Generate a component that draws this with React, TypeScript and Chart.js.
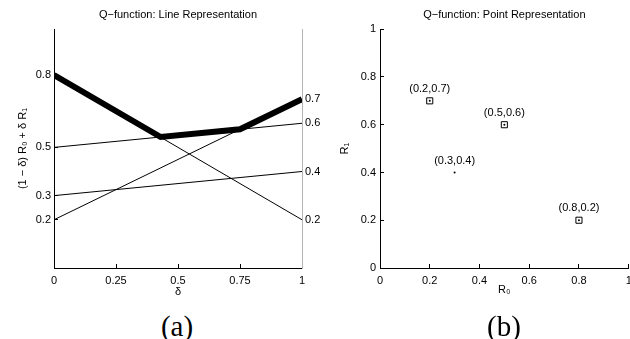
import React, { useEffect, useRef } from "react";
import { Chart, registerables } from "chart.js";

Chart.register(...registerables);

// ---- data ----
const r0Values = [0.2, 0.5, 0.3, 0.8];
const r1Values = [0.7, 0.6, 0.4, 0.2];
const hasBox = [true, true, false, true];
const envelopeDelta = [0, 0.43, 0.75, 1];
const envelopeValue = [0.8, 0.543, 0.575, 0.7];
const deltaTicks = [0, 0.25, 0.5, 0.75, 1];
const leftAxisTicks = [0.2, 0.3, 0.5, 0.8];
const rightAxisTicks = [0.2, 0.4, 0.6, 0.7];
const pointAxisTicks = [0, 0.2, 0.4, 0.6, 0.8, 1];
const pointLabels = r0Values.map((x, i) => `(${x},${r1Values[i]})`);

const FONT = "'Liberation Sans', Arial, Helvetica, sans-serif";
Chart.defaults.font.family = FONT;
Chart.defaults.font.size = 11;
Chart.defaults.color = "#000";

const setTicks = (arr: number[]) => (s: any) => {
  s.ticks = arr.map((v) => ({ value: v }));
};

function useChart(ref: React.RefObject<HTMLCanvasElement>, make: () => any) {
  useEffect(() => {
    if (!ref.current) return;
    const chart = new Chart(ref.current, make());
    return () => chart.destroy();
  }, []);
}

function LineChart() {
  const ref = useRef<HTMLCanvasElement>(null);
  useChart(ref, () => {
    const thin = r0Values.map((v, i) => ({
      data: [
        { x: 0, y: v },
        { x: 1, y: r1Values[i] },
      ],
      showLine: true,
      borderColor: "#000",
      borderWidth: 1,
      pointRadius: 0,
      yAxisID: "y",
      order: 2,
    }));
    const env = {
      data: envelopeDelta.map((d, i) => ({ x: d, y: envelopeValue[i] })),
      showLine: true,
      borderColor: "#000",
      borderWidth: 6,
      pointRadius: 0,
      yAxisID: "y",
      order: 1,
    };
    return {
      type: "scatter",
      data: { datasets: [...thin, env] },
      options: {
        animation: false,
        responsive: false,
        layout: { padding: 0 },
        plugins: {
          legend: { display: false },
          tooltip: { enabled: false },
          title: {
            display: true,
            text: "Q\u2212function: Line Representation",
            fullSize: false,
            padding: { top: 8, bottom: 8 },
            font: { size: 11, weight: "normal" },
            color: "#000",
          },
        },
        scales: {
          x: {
            type: "linear",
            min: 0,
            max: 1,
            afterBuildTicks: setTicks(deltaTicks),
            afterFit: (s: any) => {
              s.height = 32;
              s.paddingLeft = 0;
              s.paddingRight = 0;
            },
            grid: { drawOnChartArea: false, tickLength: -4, color: "#000" },
            border: { color: "#000", width: 1 },
            ticks: { padding: 10, autoSkip: false, maxRotation: 0, callback: (v: any) => String(v) },
            title: { display: true, text: "\u03b4", padding: { top: 0, bottom: 1 } },
          },
          y: {
            type: "linear",
            position: "left",
            min: 0,
            max: 0.99,
            afterBuildTicks: setTicks(leftAxisTicks),
            afterFit: (s: any) => {
              s.width = 54;
            },
            grid: { drawOnChartArea: false, tickLength: -4, color: "#000" },
            border: { color: "#000", width: 1 },
            ticks: { padding: 7, autoSkip: false, callback: (v: any) => String(v) },
            title: {
              display: true,
              text: "(1 \u2212 \u03b4) R\u2080 + \u03b4 R\u2081",
              padding: { top: 16, bottom: 0 },
            },
          },
          y2: {
            type: "linear",
            position: "right",
            min: 0,
            max: 0.99,
            afterBuildTicks: setTicks(rightAxisTicks),
            afterFit: (s: any) => {
              s.width = 18;
            },
            grid: { drawOnChartArea: false, drawTicks: false },
            border: { color: "#b4b4b4", width: 1 },
            ticks: { padding: 3, autoSkip: false, callback: (v: any) => String(v) },
          },
        },
      },
    };
  });
  return (
    <canvas
      ref={ref}
      width={320}
      height={300}
      style={{ position: "absolute", left: 0, top: 0, width: 320, height: 300 }}
    />
  );
}

const pointLabelPlugin = {
  id: "pointLabelPlugin",
  afterDatasetsDraw(chart: any) {
    const meta = chart.getDatasetMeta(0);
    const ctx = chart.ctx;
    ctx.save();
    ctx.font = `11px ${FONT}`;
    ctx.fillStyle = "#000";
    ctx.textAlign = "center";
    ctx.textBaseline = "middle";
    meta.data.forEach((el: any, i: number) => {
      ctx.fillText(pointLabels[i], el.x, el.y - 12);
    });
    ctx.restore();
  },
};

function PointChart() {
  const ref = useRef<HTMLCanvasElement>(null);
  useChart(ref, () => {
    const pts = r0Values.map((x, i) => ({ x, y: r1Values[i] }));
    return {
      type: "scatter",
      data: {
        datasets: [
          {
            data: pts,
            pointStyle: "rect",
            pointRadius: (c: any) => (hasBox[c.dataIndex] ? 4.3 : 0),
            borderColor: "#000",
            backgroundColor: "rgba(0,0,0,0)",
            borderWidth: 1,
          },
          {
            data: pts,
            pointStyle: "circle",
            pointRadius: 1,
            borderWidth: 0,
            backgroundColor: "#000",
          },
        ],
      },
      options: {
        animation: false,
        responsive: false,
        layout: { padding: 0 },
        plugins: {
          legend: { display: false },
          tooltip: { enabled: false },
          title: {
            display: true,
            text: "Q\u2212function: Point Representation",
            fullSize: false,
            padding: { top: 8, bottom: 8 },
            font: { size: 11, weight: "normal" },
            color: "#000",
          },
        },
        scales: {
          x: {
            type: "linear",
            min: 0,
            max: 1,
            afterBuildTicks: setTicks(pointAxisTicks),
            afterFit: (s: any) => {
              s.height = 32;
              s.paddingLeft = 0;
              s.paddingRight = 0;
            },
            grid: { drawOnChartArea: false, tickLength: -4, color: "#000" },
            border: { color: "#000", width: 1 },
            ticks: { padding: 10, autoSkip: false, maxRotation: 0, callback: (v: any) => String(v) },
            title: { display: true, text: "R\u2080", padding: { top: 0, bottom: 3 } },
          },
          y: {
            type: "linear",
            min: 0,
            max: 1,
            afterBuildTicks: setTicks(pointAxisTicks),
            afterFit: (s: any) => {
              s.width = 70;
            },
            grid: { drawOnChartArea: false, tickLength: -4, color: "#000" },
            border: { color: "#000", width: 1 },
            ticks: { padding: 8, autoSkip: false, callback: (v: any) => String(v) },
            title: { display: true, text: "R\u2081", padding: { top: 28, bottom: 0 } },
          },
        },
      },
      plugins: [pointLabelPlugin],
    };
  });
  return (
    <canvas
      ref={ref}
      width={324}
      height={300}
      style={{ position: "absolute", left: 310, top: 0, width: 324, height: 300 }}
    />
  );
}

const captionStyle: React.CSSProperties = {
  position: "absolute",
  top: 311,
  width: 100,
  textAlign: "center",
  fontFamily: "'Liberation Serif', 'Times New Roman', serif",
  fontSize: 29,
  lineHeight: "30px",
  color: "#000",
};

export default function App() {
  return (
    <div
      style={{
        position: "fixed",
        left: 0,
        top: 0,
        width: 630,
        height: 339,
        background: "#fff",
        overflow: "hidden",
      }}
    >
      <LineChart />
      <PointChart />
      <div style={{ ...captionStyle, left: 127 }}>(a)</div>
      <div style={{ ...captionStyle, left: 454 }}>(b)</div>
    </div>
  );
}
